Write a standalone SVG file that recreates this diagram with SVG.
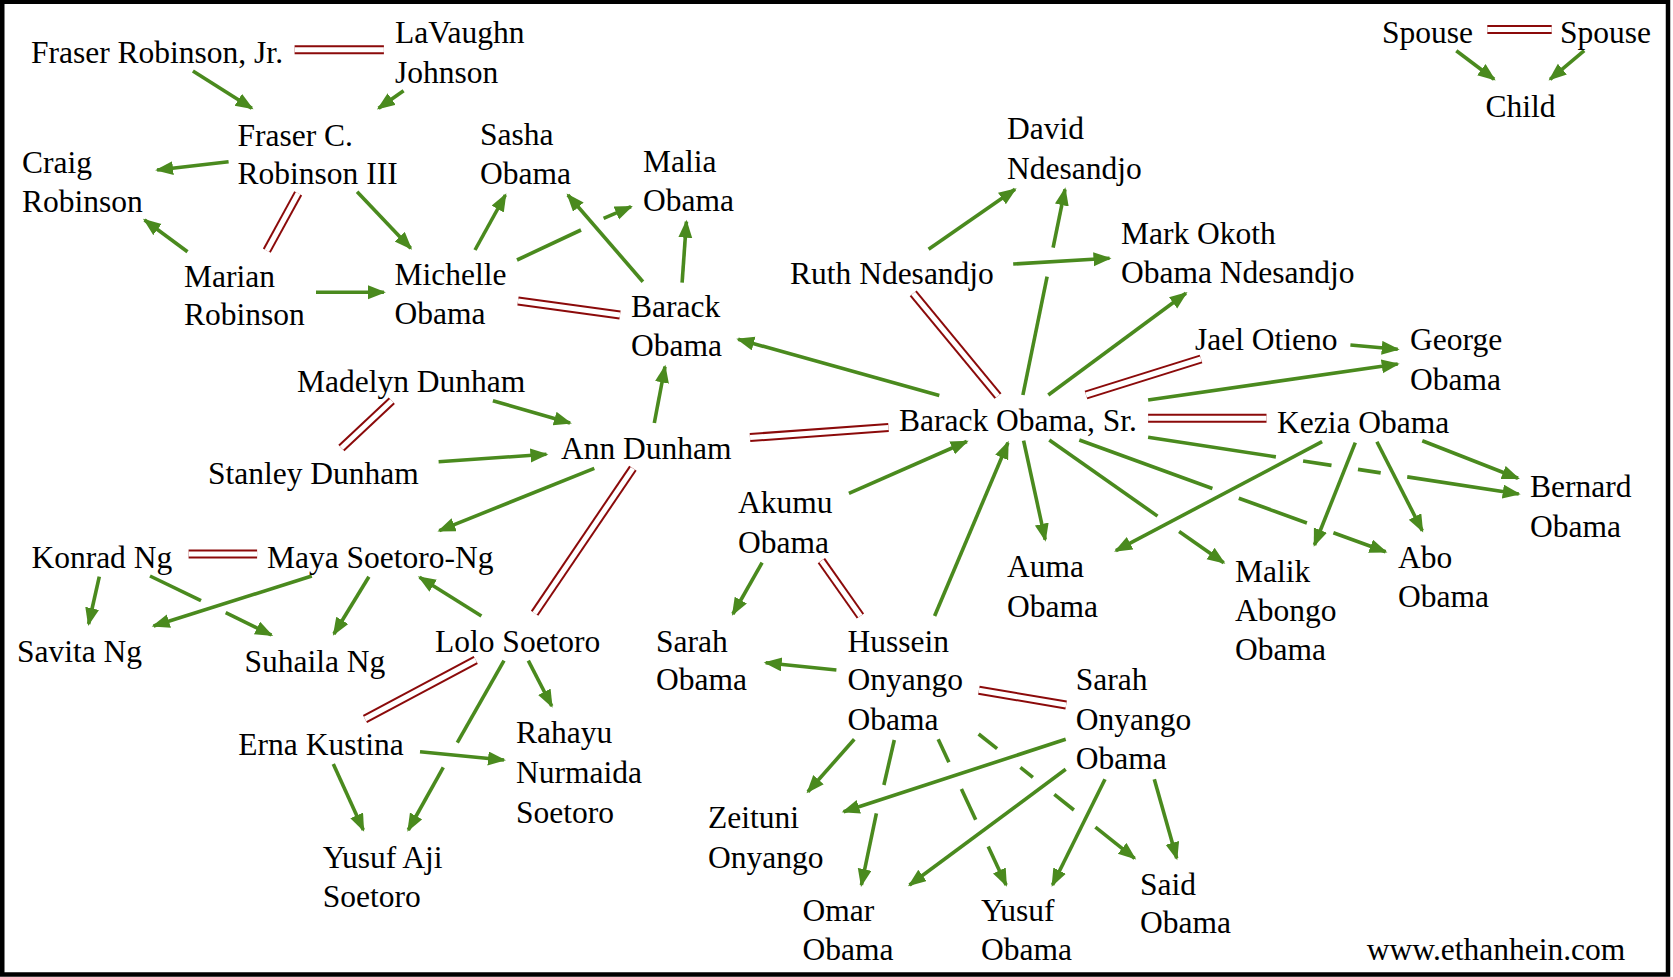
<svg xmlns="http://www.w3.org/2000/svg" width="1673" height="977" viewBox="0 0 1673 977">
<style>
text{font-family:"Liberation Serif","Times New Roman",serif;font-size:31.5px;fill:#000}
.e{stroke:#4a8a1e;stroke-width:3.6;fill:none;stroke-linecap:butt}
.a{marker-end:url(#ar)}
.m{stroke:#8b0a0a;stroke-width:9;fill:none}
.mi{stroke:#fff;stroke-width:5;fill:none}
</style>
<defs>
<marker id="ar" markerUnits="userSpaceOnUse" markerWidth="20" markerHeight="16" refX="16" refY="7" orient="auto">
<path d="M0,0 L18,7 L0,14 Z" fill="#4a8a1e"/>
</marker>
</defs>
<rect x="0" y="0" width="1673" height="977" fill="#fff"/>
<rect x="2.25" y="1.75" width="1665.75" height="972.75" fill="none" stroke="#000" stroke-width="4.5"/>

<g id="connectors">
<!-- marriages -->
<g>
<line class="m" x1="294.6" y1="49.7" x2="383.9" y2="49.7"/><line class="mi" x1="294.6" y1="49.7" x2="383.9" y2="49.7"/>
<line class="m" x1="298.2" y1="193.3" x2="266.8" y2="250.7"/><line class="mi" x1="298.2" y1="193.3" x2="266.8" y2="250.7"/>
<line class="m" x1="518" y1="301" x2="620" y2="315"/><line class="mi" x1="518" y1="301" x2="620" y2="315"/>
<line class="m" x1="391.8" y1="400.7" x2="341.4" y2="448"/><line class="mi" x1="391.8" y1="400.7" x2="341.4" y2="448"/>
<line class="m" x1="750" y1="437.5" x2="888.5" y2="427.5"/><line class="mi" x1="750" y1="437.5" x2="888.5" y2="427.5"/>
<line class="m" x1="632.9" y1="468.3" x2="534.6" y2="613.3"/><line class="mi" x1="632.9" y1="468.3" x2="534.6" y2="613.3"/>
<line class="m" x1="188.6" y1="554" x2="257.1" y2="554"/><line class="mi" x1="188.6" y1="554" x2="257.1" y2="554"/>
<line class="m" x1="475.7" y1="660" x2="365" y2="719"/><line class="mi" x1="475.7" y1="660" x2="365" y2="719"/>
<line class="m" x1="913.2" y1="293.3" x2="998" y2="396"/><line class="mi" x1="913.2" y1="293.3" x2="998" y2="396"/>
<line class="m" x1="1086" y1="395" x2="1201" y2="359"/><line class="mi" x1="1086" y1="395" x2="1201" y2="359"/>
<line class="m" x1="1148.1" y1="418.3" x2="1266.5" y2="418.3"/><line class="mi" x1="1148.1" y1="418.3" x2="1266.5" y2="418.3"/>
<line class="m" x1="821.4" y1="560.7" x2="860.4" y2="616"/><line class="mi" x1="821.4" y1="560.7" x2="860.4" y2="616"/>
<line class="m" x1="978.9" y1="690.3" x2="1066.1" y2="705"/><line class="mi" x1="978.9" y1="690.3" x2="1066.1" y2="705"/>
<line class="m" x1="1487.3" y1="29.5" x2="1551.7" y2="29.5"/><line class="mi" x1="1487.3" y1="29.5" x2="1551.7" y2="29.5"/>
</g>
<!-- parent to child arrows -->
<g>
<line class="e a" x1="192.9" y1="71" x2="251.8" y2="108.3"/>
<line class="e a" x1="403.6" y1="90.7" x2="378.6" y2="108.3"/>
<line class="e a" x1="228.6" y1="161.7" x2="157.1" y2="170"/>
<line class="e a" x1="357.1" y1="191.7" x2="410.7" y2="248.3"/>
<line class="e a" x1="187.5" y1="251.7" x2="144.6" y2="220"/>
<line class="e a" x1="316" y1="292.3" x2="383.9" y2="292.3"/>
<line class="e a" x1="475" y1="250" x2="505.4" y2="195"/>
<line class="e" x1="517" y1="260" x2="581" y2="230"/>
<line class="e a" x1="603.6" y1="218.3" x2="631" y2="206.7"/>
<line class="e a" x1="642.9" y1="281.7" x2="567.9" y2="195"/>
<line class="e a" x1="682.1" y1="282.7" x2="686.4" y2="221.7"/>
<line class="e a" x1="654.3" y1="423" x2="665" y2="366.7"/>
<line class="e a" x1="492.9" y1="400.7" x2="570" y2="423"/>
<line class="e a" x1="438.6" y1="461.7" x2="546.4" y2="454.3"/>
<line class="e a" x1="594.3" y1="468.3" x2="439.3" y2="530.7"/>
<line class="e a" x1="99.3" y1="576.7" x2="88.6" y2="624"/>
<line class="e" x1="150" y1="576" x2="201" y2="600.7"/>
<line class="e a" x1="225.7" y1="612.7" x2="271.4" y2="635"/>
<line class="e a" x1="311.8" y1="576" x2="153.6" y2="626"/>
<line class="e a" x1="368.9" y1="576.7" x2="333.9" y2="634"/>
<line class="e a" x1="481.4" y1="616" x2="419.6" y2="577.3"/>
<line class="e" x1="504" y1="660.7" x2="457.3" y2="742.7"/>
<line class="e a" x1="443.3" y1="767.3" x2="408.3" y2="830"/>
<line class="e a" x1="528.3" y1="660.7" x2="551.7" y2="706"/>
<line class="e a" x1="420" y1="751.7" x2="504" y2="760"/>
<line class="e a" x1="333.3" y1="764" x2="363.3" y2="830"/>
<line class="e a" x1="939.3" y1="395.5" x2="738.2" y2="339.3"/>
<line class="e a" x1="928.6" y1="249.3" x2="1015" y2="189.3"/>
<line class="e" x1="1022.9" y1="395" x2="1047.1" y2="276.7"/>
<line class="e a" x1="1053.1" y1="247.7" x2="1065" y2="189.3"/>
<line class="e a" x1="1013.2" y1="264" x2="1109.5" y2="258.3"/>
<line class="e a" x1="1048.3" y1="395" x2="1185.9" y2="293.3"/>
<line class="e a" x1="1350.4" y1="345" x2="1397.7" y2="349.3"/>
<line class="e a" x1="1148.1" y1="400" x2="1397.7" y2="364"/>
<line class="e" x1="1148.1" y1="437.3" x2="1275.9" y2="456.9"/>
<line class="e" x1="1303.1" y1="461" x2="1331.5" y2="465.4"/>
<line class="e" x1="1358" y1="469.4" x2="1380.7" y2="472.9"/>
<line class="e a" x1="1407.2" y1="476.9" x2="1518.7" y2="494"/>
<line class="e a" x1="1422.3" y1="440.7" x2="1518" y2="478.3"/>
<line class="e a" x1="1322.1" y1="441.7" x2="1115.9" y2="550.7"/>
<line class="e a" x1="1355.3" y1="442.7" x2="1314.5" y2="545"/>
<line class="e a" x1="1376.9" y1="441.7" x2="1422.3" y2="530.7"/>
<line class="e" x1="1079.3" y1="440" x2="1212.4" y2="488.5"/>
<line class="e" x1="1238.8" y1="498.2" x2="1306.9" y2="523"/>
<line class="e a" x1="1333.4" y1="532.7" x2="1385.6" y2="551.7"/>
<line class="e" x1="1049.3" y1="440" x2="1157.5" y2="516.1"/>
<line class="e a" x1="1179.1" y1="531.5" x2="1223.7" y2="562.7"/>
<line class="e a" x1="1023.6" y1="440.7" x2="1045.2" y2="539.7"/>
<line class="e a" x1="848.9" y1="493.3" x2="966.8" y2="441.5"/>
<line class="e a" x1="934.6" y1="616" x2="1007.9" y2="442.7"/>
<line class="e a" x1="762.1" y1="562.7" x2="732.9" y2="614"/>
<line class="e a" x1="836.4" y1="670" x2="765.7" y2="662.7"/>
<line class="e a" x1="854.3" y1="739.3" x2="807.9" y2="791.7"/>
<line class="e" x1="894.3" y1="740" x2="883.9" y2="785"/>
<line class="e a" x1="876.4" y1="813.3" x2="861.4" y2="885"/>
<line class="e" x1="938.2" y1="739.3" x2="948.9" y2="762.3"/>
<line class="e" x1="961.4" y1="789.1" x2="975.7" y2="819.7"/>
<line class="e a" x1="988.2" y1="846.5" x2="1006.1" y2="885"/>
<line class="e" x1="978.6" y1="734" x2="997.1" y2="748.7"/>
<line class="e" x1="1020.4" y1="767.3" x2="1032.9" y2="777.3"/>
<line class="e" x1="1054.3" y1="794.4" x2="1073.9" y2="810"/>
<line class="e a" x1="1095.4" y1="827.1" x2="1134.6" y2="858.3"/>
<line class="e a" x1="1065.7" y1="739.3" x2="843.6" y2="811.7"/>
<line class="e a" x1="1065.7" y1="769.3" x2="909.6" y2="885"/>
<line class="e a" x1="1105" y1="779.3" x2="1052.5" y2="885"/>
<line class="e a" x1="1154.3" y1="779.3" x2="1176.7" y2="858.3"/>
<line class="e a" x1="1456.3" y1="50.7" x2="1494.1" y2="79.3"/>
<line class="e a" x1="1584.2" y1="50.7" x2="1550.1" y2="79.3"/>
</g>
</g>

<g id="n-fraser-jr"><text x="31" y="62.7">Fraser Robinson, Jr.</text></g>
<g id="n-lavaughn"><text><tspan x="395" y="43.3">LaVaughn</tspan><tspan x="395" y="82.7">Johnson</tspan></text></g>
<g id="n-fraser-iii"><text><tspan x="237.5" y="145.7">Fraser C.</tspan><tspan x="237.5" y="184.3">Robinson III</tspan></text></g>
<g id="n-craig"><text><tspan x="22" y="172.7">Craig</tspan><tspan x="22" y="212">Robinson</tspan></text></g>
<g id="n-sasha"><text><tspan x="480" y="145">Sasha</tspan><tspan x="480" y="184.3">Obama</tspan></text></g>
<g id="n-malia"><text><tspan x="643" y="171.7">Malia</tspan><tspan x="643" y="211">Obama</tspan></text></g>
<g id="n-marian"><text><tspan x="184" y="286.7">Marian</tspan><tspan x="184" y="325">Robinson</tspan></text></g>
<g id="n-michelle"><text><tspan x="394.6" y="285">Michelle</tspan><tspan x="394.6" y="324">Obama</tspan></text></g>
<g id="n-barack"><text><tspan x="631" y="316.7">Barack</tspan><tspan x="631" y="356">Obama</tspan></text></g>
<g id="n-david"><text><tspan x="1007" y="139.3">David</tspan><tspan x="1007" y="179">Ndesandjo</tspan></text></g>
<g id="n-ruth"><text x="790" y="284.3">Ruth Ndesandjo</text></g>
<g id="n-mark"><text><tspan x="1121" y="244">Mark Okoth</tspan><tspan x="1121" y="283.3">Obama Ndesandjo</tspan></text></g>
<g id="n-jael"><text x="1195" y="350">Jael Otieno</text></g>
<g id="n-george"><text><tspan x="1410" y="350">George</tspan><tspan x="1410" y="390">Obama</tspan></text></g>
<g id="n-barack-sr"><text x="899" y="431">Barack Obama, Sr.</text></g>
<g id="n-kezia"><text x="1277" y="432.7">Kezia Obama</text></g>
<g id="n-madelyn"><text x="297" y="391.7">Madelyn Dunham</text></g>
<g id="n-stanley"><text x="208" y="484">Stanley Dunham</text></g>
<g id="n-ann"><text x="561" y="459.3">Ann Dunham</text></g>
<g id="n-akumu"><text><tspan x="738" y="513.3">Akumu</tspan><tspan x="738" y="552.7">Obama</tspan></text></g>
<g id="n-auma"><text><tspan x="1007" y="577.3">Auma</tspan><tspan x="1007" y="616.7">Obama</tspan></text></g>
<g id="n-malik"><text><tspan x="1235" y="582.3">Malik</tspan><tspan x="1235" y="621">Abongo</tspan><tspan x="1235" y="660">Obama</tspan></text></g>
<g id="n-abo"><text><tspan x="1398" y="567.7">Abo</tspan><tspan x="1398" y="606.7">Obama</tspan></text></g>
<g id="n-bernard"><text><tspan x="1530" y="497.3">Bernard</tspan><tspan x="1530" y="536.7">Obama</tspan></text></g>
<g id="n-konrad"><text x="31.4" y="567.7">Konrad Ng</text></g>
<g id="n-maya"><text x="267" y="567.7">Maya Soetoro-Ng</text></g>
<g id="n-savita"><text x="17" y="661.7">Savita Ng</text></g>
<g id="n-suhaila"><text x="244.5" y="671.5">Suhaila Ng</text></g>
<g id="n-lolo"><text x="435" y="651.7">Lolo Soetoro</text></g>
<g id="n-erna"><text x="238.3" y="755">Erna Kustina</text></g>
<g id="n-rahayu"><text><tspan x="516" y="742.7">Rahayu</tspan><tspan x="516" y="782.7">Nurmaida</tspan><tspan x="516" y="822.7">Soetoro</tspan></text></g>
<g id="n-yusuf-aji"><text><tspan x="322.7" y="867.7">Yusuf Aji</tspan><tspan x="322.7" y="906.7">Soetoro</tspan></text></g>
<g id="n-sarah"><text><tspan x="656" y="651.7">Sarah</tspan><tspan x="656" y="690">Obama</tspan></text></g>
<g id="n-hussein"><text><tspan x="847.5" y="651.7">Hussein</tspan><tspan x="847.5" y="690">Onyango</tspan><tspan x="847.5" y="730">Obama</tspan></text></g>
<g id="n-sarah-o"><text><tspan x="1075.7" y="690">Sarah</tspan><tspan x="1075.7" y="730">Onyango</tspan><tspan x="1075.7" y="769.3">Obama</tspan></text></g>
<g id="n-zeituni"><text><tspan x="708" y="827.7">Zeituni</tspan><tspan x="708" y="867.7">Onyango</tspan></text></g>
<g id="n-omar"><text><tspan x="802.5" y="921">Omar</tspan><tspan x="802.5" y="960">Obama</tspan></text></g>
<g id="n-yusuf"><text><tspan x="981" y="921">Yusuf</tspan><tspan x="981" y="960">Obama</tspan></text></g>
<g id="n-said"><text><tspan x="1140" y="895">Said</tspan><tspan x="1140" y="933.3">Obama</tspan></text></g>
<g id="n-spouse-1"><text x="1382" y="43.3">Spouse</text></g>
<g id="n-spouse-2"><text x="1560" y="43.3">Spouse</text></g>
<g id="n-child"><text x="1485.4" y="116.5">Child</text></g>
<g id="credit"><text x="1366.7" y="960">www.ethanhein.com</text></g>
</svg>
